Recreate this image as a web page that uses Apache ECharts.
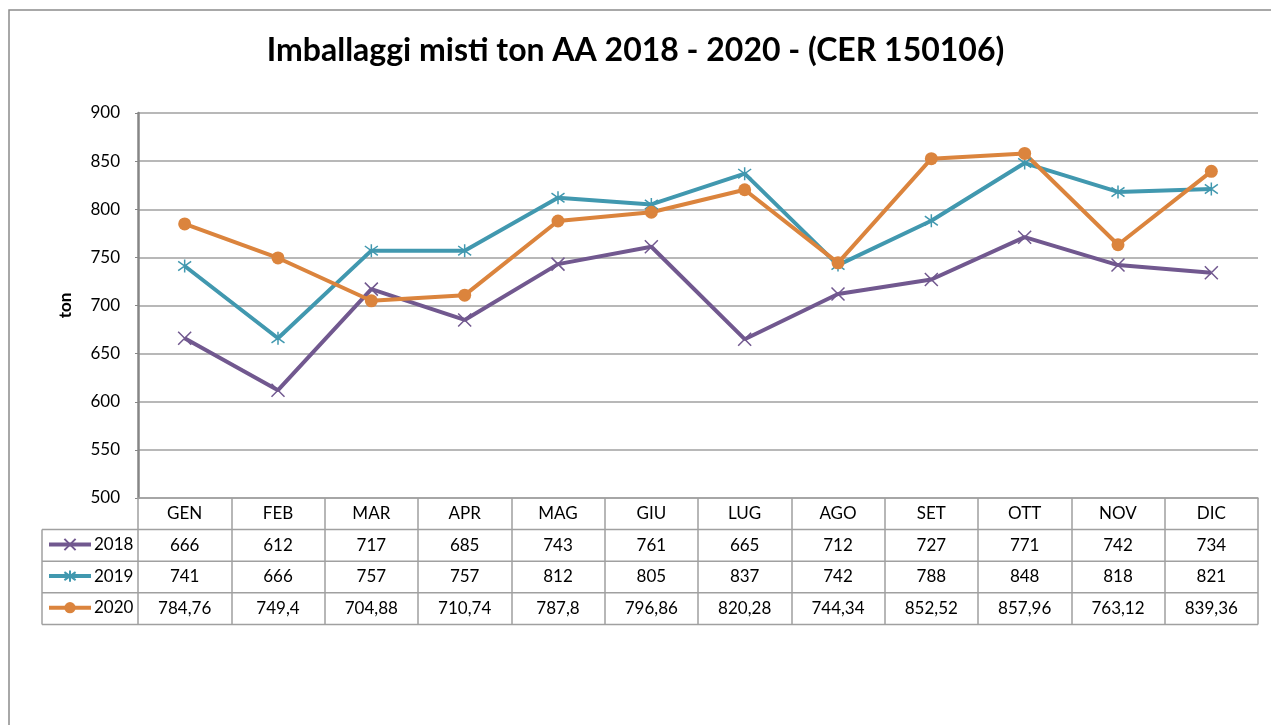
<!DOCTYPE html>
<html>
<head>
<meta charset="utf-8">
<script src="https://cdn.jsdelivr.net/npm/echarts@6/dist/echarts.min.js"></script>
<style>
  html, body { margin: 0; padding: 0; background: #fff; }
  #chart { width: 1271px; height: 725px; }
</style>
</head>
<body>
<div id="chart"></div>
<script>
// mesi
const months = ['GEN', 'FEB', 'MAR', 'APR', 'MAG', 'GIU', 'LUG', 'AGO', 'SET', 'OTT', 'NOV', 'DIC'];
// valori in ton
const y2018 = [666, 612, 717, 685, 743, 761, 665, 712, 727, 771, 742, 734];
const y2019 = [741, 666, 757, 757, 812, 805, 837, 742, 788, 848, 818, 821];
const y2020 = [784.76, 749.4, 704.88, 710.74, 787.8, 796.86, 820.28, 744.34, 852.52, 857.96, 763.12, 839.36];
const yTicks = [500, 550, 600, 650, 700, 750, 800, 850, 900];

const FONT = 'Lato, "Open Sans", sans-serif';
const GRID_COL = '#a0a0a0';
const FS = 17;

// simboli come in Excel
const symX = 'path://M0,0L10,10M10,0L0,10';
const symStar = 'path://M0,0L10,10M10,0L0,10M5,-2L5,12';

const chart = echarts.init(document.getElementById('chart'));

// formato italiano per la tabella
const fmt = v => String(v).replace('.', ',');

// righe della tabella dati = assi x aggiuntivi
const rows = [y2018, y2019, y2020];
const rowH = 31.6;
const tableAxes = rows.map((r, i) => ({
  type: 'category',
  gridIndex: 0,
  position: 'bottom',
  offset: rowH * (i + 1),
  data: r.map(fmt),
  axisLine: { show: false },
  axisTick: { show: false },
  axisLabel: { interval: 0, color: '#000', fontSize: FS, fontFamily: FONT, margin: 7 }
}));

// linee orizzontali della tabella
const tableLines = [];
for (let i = 1; i <= 4; i++) {
  const y = 498 + rowH * i;
  tableLines.push({
    type: 'line',
    shape: { x1: 42, y1: y, x2: 1258, y2: y },
    style: { stroke: GRID_COL, lineWidth: 1.5 }
  });
}
tableLines.push({
  type: 'line',
  shape: { x1: 42, y1: 498 + rowH, x2: 42, y2: 498 + rowH * 4 },
  style: { stroke: GRID_COL, lineWidth: 1.5 }
});

const mkSeries = (name, data, color, symbol, size) => ({
  name: name,
  type: 'line',
  data: data,
  symbol: symbol,
  symbolSize: size,
  lineStyle: { color: color, width: 4 },
  itemStyle: { color: color, borderColor: color, borderWidth: symbol === 'circle' ? 0 : 1.5 },
  emphasis: { disabled: true },
  animation: false
});

chart.setOption({
  animation: false,
  title: {
    text: 'Imballaggi misti ton AA 2018 - 2020 - (CER 150106)',
    left: 'center',
    top: 30,
    textStyle: { fontFamily: FONT, fontSize: 32, fontWeight: 'bold', color: '#000' }
  },
  legend: {
    orient: 'vertical',
    left: 47,
    top: 536,
    padding: 0,
    itemGap: 14.6,
    itemWidth: 42,
    itemHeight: 14,
    selectedMode: false,
    lineStyle: { width: 4 },
    textStyle: { fontFamily: FONT, fontSize: FS, color: '#000', lineHeight: 17, padding: [0, 0, 0, -2] },
    data: ['2018', '2019', '2020']
  },
  grid: { left: 138, right: 13, top: 113, bottom: 227, containLabel: false },
  xAxis: [{
    type: 'category',
    data: months,
    boundaryGap: true,
    axisLine: { lineStyle: { color: GRID_COL, width: 1.5 } },
    axisTick: { show: true, interval: 0, length: rowH * 4, lineStyle: { color: GRID_COL, width: 1.5 } },
    axisLabel: { interval: 0, color: '#000', fontSize: FS, fontFamily: FONT, margin: 7 }
  }].concat(tableAxes),
  yAxis: {
    type: 'value',
    min: yTicks[0],
    max: yTicks[yTicks.length - 1],
    interval: 50,
    name: 'ton',
    nameLocation: 'middle',
    nameRotate: 90,
    nameGap: 64,
    nameTextStyle: { fontFamily: FONT, fontSize: 17, fontWeight: 'bold', color: '#000' },
    axisLine: { show: true, lineStyle: { color: '#868686', width: 2.5 } },
    axisTick: { show: true, length: 3, lineStyle: { color: '#868686' } },
    axisLabel: { color: '#000', fontSize: FS, fontFamily: FONT, margin: 18 },
    splitLine: { lineStyle: { color: GRID_COL, width: 1.5 } }
  },
  graphic: [{
    type: 'rect',
    shape: { x: 9, y: 10, width: 1300, height: 800 },
    style: { fill: 'none', stroke: '#8c8c8c', lineWidth: 1.5 },
    silent: true
  }].concat(tableLines),
  series: [
    mkSeries('2018', y2018, '#71588f', symX, 13),
    mkSeries('2019', y2019, '#4198af', symStar, 13),
    mkSeries('2020', y2020, '#db843d', 'circle', 13)
  ]
});
</script>
</body>
</html>
